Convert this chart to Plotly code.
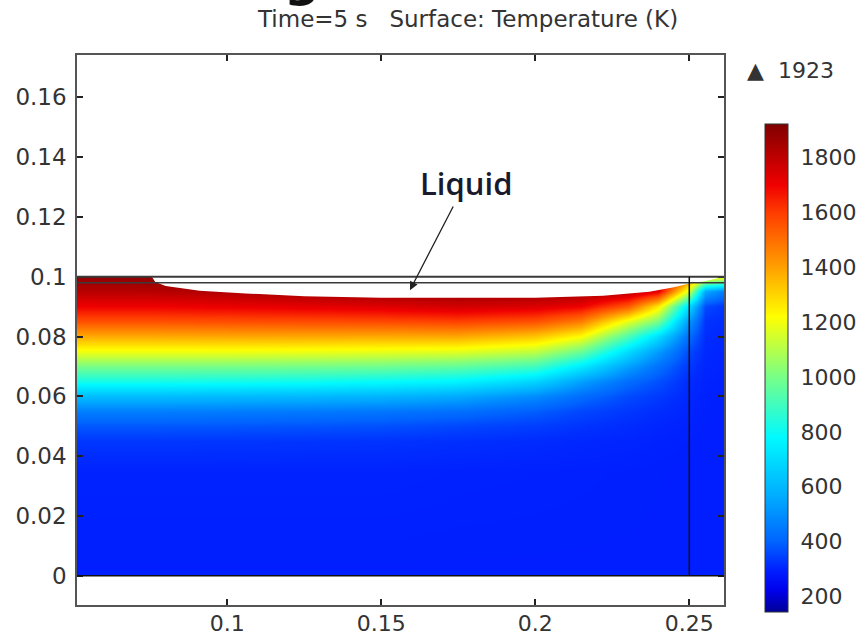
import plotly.graph_objects as go

# ---------------- data ----------------
X_NODES = [0.05, 0.075, 0.1, 0.125, 0.15, 0.175, 0.2, 0.215, 0.23, 0.24, 0.25, 0.255, 0.262]
Y_NODES = [0.0, 0.035, 0.045, 0.05, 0.055, 0.06, 0.065, 0.07, 0.075, 0.08, 0.085, 0.09, 0.095, 0.1]

# temperature (K) read along each x column, bottom -> top (one list per X_NODES entry)
T_COLS = [
    [293, 300, 330, 380, 460, 610, 820, 1000, 1200, 1380, 1560, 1700, 1810, 1890],
    [293, 300, 330, 380, 460, 610, 820, 1000, 1200, 1380, 1560, 1700, 1815, 1895],
    [293, 300, 328, 378, 455, 605, 815, 1000, 1200, 1385, 1565, 1710, 1830, 1900],
    [293, 300, 326, 374, 450, 598, 808, 995, 1195, 1385, 1570, 1720, 1850, 1900],
    [293, 300, 324, 368, 442, 588, 790, 985, 1185, 1380, 1575, 1735, 1865, 1900],
    [293, 298, 318, 355, 425, 560, 765, 960, 1175, 1385, 1590, 1760, 1880, 1900],
    [293, 297, 312, 340, 390, 490, 680, 900, 1120, 1330, 1560, 1740, 1870, 1900],
    [293, 296, 306, 325, 355, 420, 540, 740, 980, 1220, 1470, 1700, 1860, 1900],
    [293, 295, 302, 312, 330, 360, 420, 540, 700, 920, 1180, 1540, 1820, 1900],
    [293, 294, 298, 304, 315, 335, 370, 430, 530, 700, 1000, 1260, 1720, 1880],
    [293, 293, 295, 298, 302, 306, 312, 330, 360, 420, 520, 700, 1150, 1500],
    [293, 293, 293, 294, 295, 297, 300, 304, 308, 315, 325, 360, 560, 1300],
    [293, 293, 293, 293, 293, 294, 296, 299, 302, 306, 312, 325, 450, 1250],
]

# solid / liquid interface (top of the plotted solid)
SURF_X = [0.04, 0.0755, 0.0766, 0.080, 0.091, 0.106, 0.125, 0.150, 0.175, 0.200,
          0.222, 0.237, 0.245, 0.250, 0.255, 0.2595, 0.2614, 0.27]
SURF_Y = [0.1, 0.1, 0.0982, 0.0969, 0.0953, 0.0944, 0.0935, 0.0930, 0.0929, 0.0930,
          0.0936, 0.0950, 0.0965, 0.0977, 0.0985, 0.0995, 0.1, 0.1]

X_TICKS = [0.1, 0.15, 0.2, 0.25]
X_TICKTEXT = ["0.1", "0.15", "0.2", "0.25"]
Y_TICKS = [0, 0.02, 0.04, 0.06, 0.08, 0.1, 0.12, 0.14, 0.16]
Y_TICKTEXT = ["0", "0.02", "0.04", "0.06", "0.08", "0.1", "0.12", "0.14", "0.16"]
CBAR_TICKS = [200, 400, 600, 800, 1000, 1200, 1400, 1600, 1800]

T_MIN, T_MAX = 143, 1923
X_RANGE = [0.0512, 0.26127]
Y_RANGE = [-0.0098, 0.17415]

# colour table (K, colour)
CMAP_T = [143, 220, 290, 400, 560, 780, 1000, 1220, 1420, 1600, 1700, 1923]
CMAP_C = ["rgb(0,0,150)", "rgb(0,0,235)", "rgb(0,28,255)", "rgb(0,100,255)",
          "rgb(0,170,255)", "rgb(0,250,255)", "rgb(120,255,135)", "rgb(255,255,0)",
          "rgb(255,150,0)", "rgb(255,60,0)", "rgb(240,0,0)", "rgb(128,0,0)"]

# ---------------- figure ----------------
z = [list(row) for row in zip(*T_COLS)]
colorscale = [[(t - T_MIN) / (T_MAX - T_MIN), c] for t, c in zip(CMAP_T, CMAP_C)]

FONT = "DejaVu Sans"
TXT = "#333333"

PLOT_W = 857 - 77 - 133  # plot area width in px
CB_X, CB_Y, CB_LEN, CB_THICK = 1.0634, 0.8745, 0.8867, 23

fig = go.Figure()
fig.add_trace(go.Heatmap(
    x=X_NODES, y=Y_NODES, z=z, zsmooth="best", zmin=T_MIN, zmax=T_MAX,
    colorscale=colorscale, hoverinfo="skip",
    colorbar=dict(
        x=CB_X, xanchor="left", xpad=0, y=CB_Y, yanchor="top", ypad=0,
        len=CB_LEN, lenmode="fraction", thickness=CB_THICK,
        outlinewidth=1, outlinecolor="#333",
        tickvals=CBAR_TICKS, ticks="outside", ticklen=8, tickcolor="rgba(0,0,0,0)",
        tickfont=dict(family=FONT, size=22, color=TXT),
    ),
))

# liquid region (white, above the solid surface)
fig.add_trace(go.Scatter(
    x=[SURF_X[0]] + SURF_X + [SURF_X[-1]],
    y=[0.2] + SURF_Y + [0.2],
    fill="toself", fillcolor="white", mode="lines", line=dict(width=0),
    hoverinfo="skip", showlegend=False,
))
# below the geometry
fig.add_trace(go.Scatter(
    x=[0.04, 0.27, 0.27, 0.04], y=[0, 0, -0.03, -0.03],
    fill="toself", fillcolor="white", mode="lines", line=dict(width=0),
    hoverinfo="skip", showlegend=False,
))

shapes = [
    dict(type="line", xref="x", yref="y", x0=X_RANGE[0], x1=X_RANGE[1], y0=0.1, y1=0.1,
         line=dict(color="#3a3a3a", width=2), layer="above"),
    dict(type="line", xref="x", yref="y", x0=X_RANGE[0], x1=X_RANGE[1], y0=0.098, y1=0.098,
         line=dict(color="#3a3a3a", width=1.5), layer="above"),
    dict(type="line", xref="x", yref="y", x0=0.25, x1=0.25, y0=0, y1=0.1,
         line=dict(color="#111", width=1.5), layer="above"),
    dict(type="line", xref="x", yref="y", x0=X_RANGE[0], x1=X_RANGE[1], y0=0, y1=0,
         line=dict(color="#111", width=1.5), layer="above"),
]

# small inside tick marks on both edges of the colour bar
cb_bottom = CB_Y - CB_LEN
cb_left = CB_X
cb_right = CB_X + CB_THICK / PLOT_W
tick_w = 4 / PLOT_W
for v in CBAR_TICKS:
    yy = cb_bottom + (v - T_MIN) / (T_MAX - T_MIN) * CB_LEN
    for xa, xb in ((cb_left, cb_left + tick_w), (cb_right - tick_w, cb_right)):
        shapes.append(dict(type="line", xref="paper", yref="paper", x0=xa, x1=xb,
                           y0=yy, y1=yy, line=dict(color="#222", width=1.5), layer="above"))

annotations = [
    dict(text="Time=5 s\u00a0\u00a0\u00a0Surface: Temperature (K)", xref="paper", yref="paper",
         x=0.6028, y=1.0655, showarrow=False, xanchor="center", yanchor="middle",
         font=dict(family=FONT, size=23, color=TXT)),
    dict(text="\u25b2\u00a0\u00a01923", xref="paper", yref="paper", x=1.1035, y=0.9727,
         showarrow=False, xanchor="center", yanchor="middle",
         font=dict(family=FONT, size=22, color=TXT)),
    dict(text="Liquid", xref="paper", yref="paper", x=0.6012, y=0.767,
         showarrow=False, xanchor="center", yanchor="middle",
         font=dict(family="Open Sans", size=31, weight=600, color="#1a1a2e")),
    dict(text="", x=0.1593, y=0.0955, xref="x", yref="y",
         ax=0.1736, ay=0.124, axref="x", ayref="y", showarrow=True,
         arrowhead=2, arrowsize=1.3, arrowwidth=1.3, arrowcolor="#222",
         standoff=0, startstandoff=0),
    dict(text="<b>g</b>", xref="paper", yref="paper", x=0.3478, y=1.0818,
         showarrow=False, xanchor="center", yanchor="bottom",
         font=dict(family=FONT, size=50, color="#111")),
]

axis_common = dict(
    showgrid=False, zeroline=False, showline=True, linecolor="#555", linewidth=1.5,
    mirror="allticks", ticks="inside", ticklen=6, tickwidth=1.5, tickcolor="#222",
    layer="above traces", automargin=False,
)

fig.update_layout(
    width=857, height=637,
    margin=dict(l=77, r=133, t=55, b=32, autoexpand=False),
    paper_bgcolor="white", plot_bgcolor="white",
    showlegend=False,
    shapes=shapes, annotations=annotations,
    xaxis=dict(range=X_RANGE, tickvals=X_TICKS, ticktext=X_TICKTEXT,
               tickfont=dict(family=FONT, size=22, color=TXT),
               ticklabelstandoff=-2, **axis_common),
    yaxis=dict(range=Y_RANGE, tickvals=Y_TICKS, ticktext=Y_TICKTEXT,
               tickfont=dict(family=FONT, size=23, color=TXT),
               ticklabelstandoff=4, **axis_common),
)

fig.write_html("out.html")
